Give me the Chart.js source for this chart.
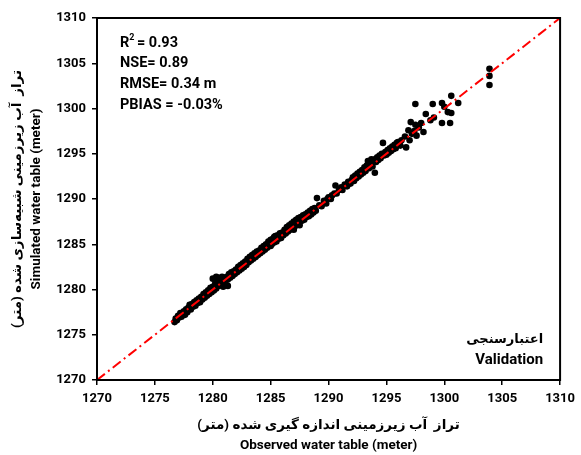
<!DOCTYPE html>
<html lang="fa">
<head>
<meta charset="UTF-8">
<title>Validation</title>
<script src="https://cdn.jsdelivr.net/npm/chart.js"></script>
<style>
  html, body { margin: 0; padding: 0; background: #fff; }
  #wrap { width: 581px; height: 455px; }
</style>
</head>
<body>
<div id="wrap"><canvas id="chart" width="581" height="455"></canvas></div>
<script>
// axis range and ticks
const axisMin = 1270;
const axisMax = 1310;
const tickStep = 5;

// observed (x) and simulated (y) water table, metres
const observed = [
  1276.7, 1276.8, 1276.9, 1277.0, 1277.1, 1277.2, 1277.3, 1277.4, 1277.5, 1277.6, 1277.7, 1277.8, 1277.9,
  1278.0, 1278.1, 1278.2, 1278.3, 1278.4, 1278.5, 1278.6, 1278.7, 1278.8, 1278.9, 1279.0, 1279.1, 1279.2, 1279.3, 1279.4, 1279.5, 1279.6, 1279.7, 1279.8, 1279.9,
  1280.0, 1280.0, 1280.1, 1280.2, 1280.3, 1280.3, 1280.4, 1280.5, 1280.5, 1280.6, 1280.7, 1280.8, 1280.9, 1280.9, 1281.0, 1281.1, 1281.2, 1281.3, 1281.3, 1281.4, 1281.5, 1281.6, 1281.7, 1281.8, 1281.9,
  1282.0, 1282.1, 1282.2, 1282.3, 1282.4, 1282.5, 1282.6, 1282.7, 1282.8, 1282.9, 1283.0, 1283.1, 1283.2, 1283.3, 1283.4, 1283.5, 1283.6, 1283.7, 1283.8, 1283.9,
  1284.0, 1284.1, 1284.2, 1284.3, 1284.4, 1284.5, 1284.6, 1284.7, 1284.8, 1284.9, 1285.0, 1285.1, 1285.2, 1285.3, 1285.4, 1285.5, 1285.6, 1285.7, 1285.8, 1285.9, 1285.3, 1285.0,
  1286.0, 1286.1, 1286.2, 1286.3, 1286.4, 1286.5, 1286.6, 1286.7, 1286.8, 1286.9, 1287.0, 1287.1, 1287.2, 1287.3, 1287.4, 1287.5, 1287.6, 1287.7, 1287.8, 1287.9, 1287.0, 1287.5,
  1288.0, 1288.1, 1288.2, 1288.3, 1288.4, 1288.5, 1288.6, 1288.7, 1288.8, 1288.9, 1289.0, 1289.2, 1289.4, 1289.6, 1289.8, 1289.9,
  1290.0, 1290.2, 1290.3, 1290.6, 1290.5, 1290.7, 1290.9, 1291.1, 1291.2, 1291.4, 1291.6, 1291.7, 1291.9, 1292.0,
  1292.1, 1292.2, 1292.3, 1292.4, 1292.5, 1292.6, 1292.7, 1292.8, 1292.9, 1293.0, 1293.1, 1293.2, 1293.3, 1293.4, 1293.5, 1293.6, 1293.7, 1293.8, 1293.9, 1294.0,
  1294.0, 1294.1, 1294.2, 1294.3, 1294.4, 1294.5, 1294.6, 1294.7, 1294.8, 1294.9, 1295.0, 1295.1, 1295.2, 1295.3, 1295.4, 1295.5, 1295.6, 1295.7, 1295.8, 1295.9,
  1296.0, 1296.3, 1296.2, 1296.6, 1296.7, 1296.9, 1297.0, 1297.1, 1297.2, 1297.5, 1297.4, 1297.6, 1298.0, 1298.2, 1297.8, 1297.5,
  1298.4, 1298.8, 1299.1, 1299.0, 1299.8, 1299.8, 1300.0, 1300.3, 1300.6, 1300.5, 1300.6, 1301.2,
  1303.9, 1303.9, 1303.9
];
const simulated = [
  1276.4, 1276.8, 1276.6, 1277.1, 1276.9, 1277.4, 1277.0, 1277.3, 1277.6, 1277.2, 1277.8, 1277.5, 1278.0,
  1278.3, 1277.8, 1278.4, 1278.1, 1278.6, 1278.2, 1278.8, 1278.5, 1279.0, 1278.6, 1279.2, 1278.9, 1279.5, 1279.1, 1279.7, 1279.3, 1279.9, 1279.5, 1280.2, 1279.7,
  1280.3, 1281.2, 1279.9, 1280.6, 1281.4, 1280.1, 1280.8, 1281.3, 1280.4, 1281.0, 1280.6, 1281.4, 1280.9, 1280.3, 1281.2, 1280.6, 1281.4, 1280.4, 1281.1, 1281.7, 1281.3, 1281.9, 1281.5, 1282.0, 1281.7,
  1282.2, 1281.9, 1282.5, 1282.1, 1282.7, 1282.3, 1282.9, 1282.5, 1283.1, 1282.7, 1283.4, 1283.0, 1283.6, 1283.2, 1283.8, 1283.4, 1284.0, 1283.6, 1284.2, 1283.8,
  1284.3, 1284.0, 1284.6, 1284.2, 1284.8, 1284.4, 1285.0, 1284.6, 1285.3, 1284.8, 1285.5, 1285.0, 1285.6, 1285.2, 1285.9, 1285.3, 1286.0, 1285.6, 1286.2, 1285.7, 1285.8, 1284.8,
  1286.3, 1286.0, 1286.6, 1286.2, 1286.9, 1286.4, 1287.1, 1286.6, 1287.3, 1286.8, 1287.5, 1287.0, 1287.7, 1287.2, 1287.9, 1287.4, 1288.0, 1287.6, 1288.2, 1287.7, 1286.6, 1287.1,
  1288.3, 1288.0, 1288.5, 1288.1, 1288.7, 1288.3, 1288.9, 1288.5, 1289.0, 1288.7, 1290.1, 1289.3, 1289.2, 1289.8, 1289.5, 1290.0,
  1290.2, 1290.0, 1290.4, 1291.5, 1290.6, 1290.6, 1291.0, 1291.3, 1291.0, 1291.6, 1291.4, 1291.9, 1291.7, 1292.1,
  1292.4, 1292.0, 1292.6, 1292.3, 1292.8, 1292.5, 1293.0, 1292.7, 1293.2, 1292.9, 1293.5, 1293.1, 1293.7, 1294.2, 1293.4, 1294.0, 1294.4, 1293.6, 1294.2, 1292.9,
  1294.4, 1294.1, 1294.6, 1294.3, 1294.8, 1294.5, 1295.0, 1296.2, 1294.8, 1295.2, 1294.9, 1295.4, 1295.1, 1295.6, 1295.3, 1295.8, 1295.5, 1296.0, 1295.6, 1296.2,
  1296.3, 1296.5, 1295.9, 1296.9, 1295.7, 1297.6, 1296.5, 1298.5, 1297.2, 1298.2, 1297.5, 1297.0, 1298.4, 1297.4, 1297.9, 1300.5,
  1299.4, 1298.7, 1299.0, 1300.5, 1300.6, 1298.4, 1300.2, 1299.6, 1299.5, 1298.4, 1301.4, 1300.6,
  1304.4, 1303.6, 1302.6
];

const statLines = ['= 0.93', 'NSE= 0.89', 'RMSE= 0.34 m', 'PBIAS = -0.03%'];
const labelFa = 'اعتبارسنجی';
const labelEn = 'Validation';
const xTitle = ['تراز  آب زیرزمینی اندازه گیری شده (متر)', 'Observed water table (meter)'];
const yTitle = ['تراز  آب زیرزمینی شبیه‌سازی شده (متر)', 'Simulated water table (meter)'];

const FONT = "Roboto, 'DejaVu Sans', sans-serif";

const points = observed.map((v, i) => ({ x: v, y: simulated[i] }));

// box round the plot area plus the text inside it
const extras = {
  id: 'extras',
  afterDraw(chart) {
    const c = chart.ctx;
    const a = chart.chartArea;
    c.save();
    c.strokeStyle = '#000';
    c.lineWidth = 2;
    c.strokeRect(a.left, a.top, a.right - a.left, a.bottom - a.top);

    c.fillStyle = '#000';
    c.textBaseline = 'middle';
    c.textAlign = 'left';
    c.font = 'bold 14.5px ' + FONT;
    const x0 = a.left + 23;
    // R squared with a small superscript
    c.fillText('R', x0, 43);
    const rw = c.measureText('R').width;
    c.font = 'bold 9px ' + FONT;
    c.fillText('2', x0 + rw, 38);
    c.font = 'bold 14.5px ' + FONT;
    c.fillText(' ' + statLines[0], x0 + rw + 4, 43);
    for (let i = 1; i < statLines.length; i++) {
      c.fillText(statLines[i], x0, 43 + i * 20.7);
    }

    c.textAlign = 'right';
    c.font = 'bold 13px ' + FONT;
    c.fillText(labelFa, a.right - 17, 340);
    c.font = 'bold 15px ' + FONT;
    c.fillText(labelEn, a.right - 17, 360);
    c.restore();
  }
};

const axisTicks = {
  color: '#000',
  font: { family: FONT, size: 13, weight: 'bold' },
  stepSize: tickStep,
  padding: 6,
  callback: v => String(v)
};

new Chart(document.getElementById('chart'), {
  type: 'scatter',
  data: {
    datasets: [
      {
        // 1:1 line
        data: [{ x: axisMin, y: axisMin }, { x: axisMax, y: axisMax }],
        showLine: true,
        borderColor: '#ff0000',
        borderWidth: 2,
        borderDash: [10, 4, 2, 4],
        pointRadius: 0,
        order: 0
      },
      {
        data: points,
        backgroundColor: '#000',
        borderWidth: 0,
        pointRadius: 3.3,
        order: 1
      }
    ]
  },
  options: {
    responsive: false,
    animation: false,
    layout: { padding: { top: 18, right: 18, left: 0, bottom: 0 } },
    plugins: { legend: { display: false }, tooltip: { enabled: false } },
    scales: {
      x: {
        type: 'linear',
        min: axisMin,
        max: axisMax,
        ticks: axisTicks,
        grid: { drawOnChartArea: false, color: '#000', tickLength: 5, lineWidth: 1.5 },
        border: { color: '#000', width: 2 },
        title: {
          display: true,
          text: xTitle,
          color: '#000',
          font: { family: FONT, size: 13.5, weight: 'bold', lineHeight: 1.45 },
          padding: { top: 15, bottom: 0 }
        },
        afterFit(scale) { scale.height = 75; }
      },
      y: {
        type: 'linear',
        min: axisMin,
        max: axisMax,
        ticks: axisTicks,
        grid: { drawOnChartArea: false, color: '#000', tickLength: 5, lineWidth: 1.5 },
        border: { color: '#000', width: 2 },
        title: {
          display: true,
          text: yTitle,
          color: '#000',
          font: { family: FONT, size: 13.5, weight: 'bold', lineHeight: 1.35 },
          padding: { top: 9, bottom: 0 }
        },
        afterFit(scale) { scale.width = 97; }
      }
    }
  },
  plugins: [extras]
});
</script>
</body>
</html>
